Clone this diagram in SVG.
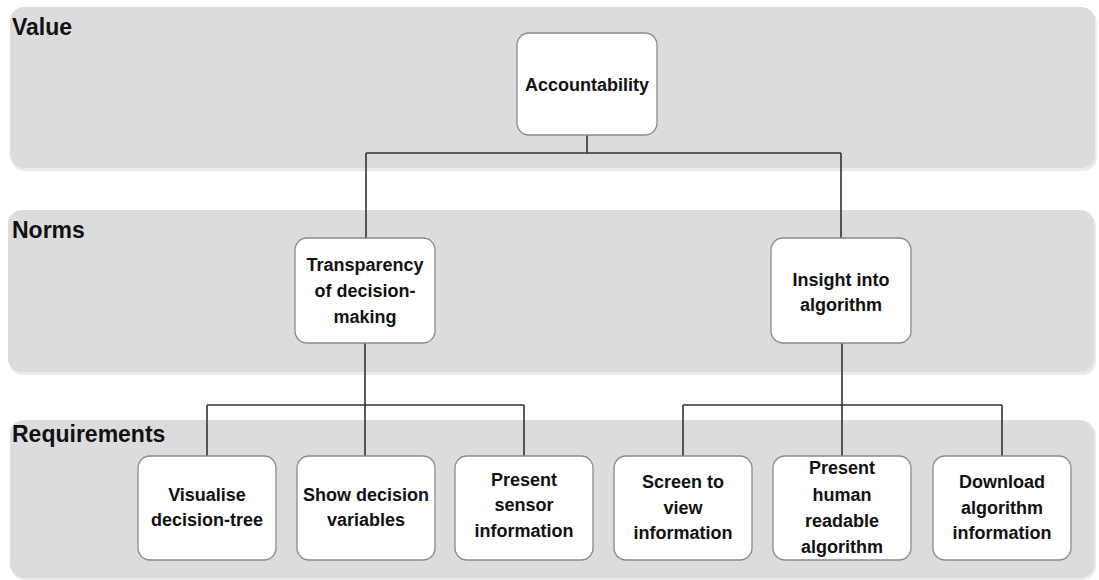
<svg xmlns="http://www.w3.org/2000/svg" width="1099" height="580" viewBox="0 0 1099 580">
<style>
.band{fill:#dcdcde;}
.shadow{fill:#e9eaec;}
.box{fill:#ffffff;stroke:#8a8a8a;stroke-width:1.3;}
.title{font-family:"Liberation Sans",Arial,sans-serif;font-weight:bold;font-size:23px;fill:#111;}
.lbl{font-family:"Liberation Sans",Arial,sans-serif;font-weight:bold;font-size:18px;fill:#111;text-anchor:middle;}
.conn{stroke:#333;stroke-width:1.6;fill:none;}
</style>
<rect width="1099" height="580" fill="#ffffff"/>
<g id="bands">
<rect class="shadow" x="11" y="9" width="1086" height="162" rx="14"/>
<rect class="band" x="10" y="7" width="1085" height="161" rx="14"/>
<rect class="shadow" x="9" y="212" width="1087" height="163" rx="14"/>
<rect class="band" x="8" y="210" width="1086" height="162" rx="14"/>
<rect class="shadow" x="11" y="422" width="1085" height="158" rx="14"/>
<rect class="band" x="10" y="420" width="1084" height="158" rx="14"/>
<text class="title" x="12" y="35">Value</text>
<text class="title" x="12" y="238">Norms</text>
<text class="title" x="12" y="442">Requirements</text>
</g>
<g id="connectors">
<path class="conn" d="M587 135 V153 M366 153 H841 M366 153 V238 M841 153 V238"/>
<path class="conn" d="M365 343 V456 M207 405 H524 M207 405 V456 M524 405 V456"/>
<path class="conn" d="M842 343 V456 M683 405 H1002 M683 405 V456 M1002 405 V456"/>
</g>
<g id="accountability">
<rect class="box" x="517" y="33" width="140" height="102" rx="12"/>
<text class="lbl" x="587" y="91">Accountability</text>
</g>
<g id="transparency">
<rect class="box" x="295" y="238" width="140" height="105" rx="12"/>
<text class="lbl" x="365" y="271">Transparency</text>
<text class="lbl" x="365" y="297">of decision-</text>
<text class="lbl" x="365" y="323">making</text>
</g>
<g id="insight">
<rect class="box" x="771" y="238" width="140" height="105" rx="12"/>
<text class="lbl" x="841" y="286">Insight into</text>
<text class="lbl" x="841" y="311">algorithm</text>
</g>
<g id="visualise">
<rect class="box" x="138" y="456" width="138" height="104" rx="12"/>
<text class="lbl" x="207" y="501">Visualise</text>
<text class="lbl" x="207" y="526">decision-tree</text>
</g>
<g id="show-variables">
<rect class="box" x="297" y="456" width="138" height="104" rx="12"/>
<text class="lbl" x="366" y="501">Show decision</text>
<text class="lbl" x="366" y="526">variables</text>
</g>
<g id="sensor">
<rect class="box" x="455" y="456" width="138" height="104" rx="12"/>
<text class="lbl" x="524" y="486">Present</text>
<text class="lbl" x="524" y="511">sensor</text>
<text class="lbl" x="524" y="537">information</text>
</g>
<g id="screen">
<rect class="box" x="614" y="456" width="138" height="104" rx="12"/>
<text class="lbl" x="683" y="488">Screen to</text>
<text class="lbl" x="683" y="514">view</text>
<text class="lbl" x="683" y="539">information</text>
</g>
<g id="human-readable">
<rect class="box" x="773" y="456" width="138" height="104" rx="12"/>
<text class="lbl" x="842" y="474">Present</text>
<text class="lbl" x="842" y="501">human</text>
<text class="lbl" x="842" y="527">readable</text>
<text class="lbl" x="842" y="553">algorithm</text>
</g>
<g id="download">
<rect class="box" x="933" y="456" width="138" height="104" rx="12"/>
<text class="lbl" x="1002" y="488">Download</text>
<text class="lbl" x="1002" y="514">algorithm</text>
<text class="lbl" x="1002" y="539">information</text>
</g>
</svg>
